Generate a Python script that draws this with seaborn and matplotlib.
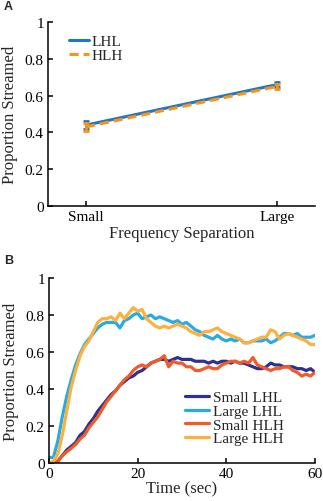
import numpy as np
import pandas as pd
import matplotlib
matplotlib.use('Agg')
import matplotlib.pyplot as plt
import seaborn as sns

# Panel A: proportion streamed by frequency separation
sep_labels = ['Small', 'Large']
lhl_mean = [0.44, 0.66]
lhl_err = [0.02, 0.015]
hlh_mean = [0.43, 0.65]
hlh_err = [0.02, 0.015]

# Panel B: proportion streamed over time (1 s steps)
time_sec = list(range(61))
small_lhl = [0.00, 0.00, 0.01, 0.04, 0.07, 0.09, 0.11, 0.15, 0.17, 0.21,
             0.24, 0.28, 0.31, 0.34, 0.37, 0.39, 0.42, 0.44, 0.46, 0.47,
             0.49, 0.50, 0.52, 0.54, 0.55, 0.56, 0.56, 0.55, 0.56, 0.57,
             0.56, 0.56, 0.56, 0.55, 0.55, 0.55, 0.54, 0.55, 0.54, 0.55,
             0.55, 0.54, 0.55, 0.54, 0.54, 0.53, 0.52, 0.51, 0.51, 0.52,
             0.54, 0.53, 0.53, 0.52, 0.52, 0.52, 0.51, 0.51, 0.50, 0.51, 0.49]
large_lhl = [0.03, 0.03, 0.12, 0.25, 0.36, 0.45, 0.53, 0.59, 0.64, 0.67,
             0.70, 0.73, 0.75, 0.76, 0.76, 0.76, 0.73, 0.77, 0.78, 0.80,
             0.81, 0.78, 0.79, 0.80, 0.78, 0.79, 0.78, 0.77, 0.76, 0.77,
             0.75, 0.76, 0.74, 0.72, 0.71, 0.69, 0.68, 0.67, 0.69, 0.67,
             0.66, 0.67, 0.66, 0.67, 0.65, 0.65, 0.66, 0.66, 0.66, 0.67,
             0.65, 0.66, 0.68, 0.70, 0.70, 0.69, 0.70, 0.68, 0.68, 0.68, 0.69]
small_hlh = [0.00, 0.00, 0.01, 0.04, 0.06, 0.08, 0.10, 0.13, 0.15, 0.19,
             0.22, 0.25, 0.29, 0.33, 0.36, 0.39, 0.42, 0.45, 0.47, 0.50,
             0.52, 0.53, 0.52, 0.54, 0.55, 0.56, 0.58, 0.52, 0.55, 0.54,
             0.54, 0.52, 0.52, 0.50, 0.50, 0.51, 0.52, 0.51, 0.51, 0.53,
             0.54, 0.55, 0.55, 0.54, 0.55, 0.54, 0.57, 0.53, 0.52, 0.51,
             0.50, 0.51, 0.51, 0.52, 0.52, 0.50, 0.49, 0.47, 0.48, 0.47, 0.49]
large_hlh = [0.00, 0.01, 0.05, 0.15, 0.28, 0.41, 0.50, 0.58, 0.63, 0.66,
             0.71, 0.76, 0.78, 0.78, 0.79, 0.77, 0.81, 0.78, 0.81, 0.84,
             0.82, 0.83, 0.78, 0.76, 0.74, 0.73, 0.74, 0.73, 0.74, 0.75,
             0.74, 0.73, 0.71, 0.70, 0.69, 0.71, 0.71, 0.72, 0.73, 0.71,
             0.70, 0.69, 0.68, 0.67, 0.65, 0.65, 0.66, 0.67, 0.68, 0.68,
             0.72, 0.71, 0.67, 0.69, 0.70, 0.69, 0.68, 0.67, 0.66, 0.64, 0.64]

sns.set_theme(style='ticks')
plt.rcParams['font.family'] = ['Liberation Serif', 'DejaVu Serif']
plt.rcParams['font.size'] = 11
plt.rcParams['axes.edgecolor'] = 'black'
plt.rcParams['axes.linewidth'] = 1.1
plt.rcParams['xtick.color'] = 'black'
plt.rcParams['ytick.color'] = 'black'

fig = plt.figure(figsize=(3.23, 5.02), dpi=100)
axA = fig.add_axes([0.1486, 0.5876, 0.8266, 0.3665])
axB = fig.add_axes([0.1517, 0.0757, 0.8235, 0.3685])

# ---- panel A
dfA = pd.DataFrame({
    'pos': [0, 1, 0, 1],
    'value': lhl_mean + hlh_mean,
    'cond': ['LHL', 'LHL', 'HLH', 'HLH'],
})
colA = {'LHL': '#2178c0', 'HLH': '#f7941e'}
sns.lineplot(data=dfA, x='pos', y='value', hue='cond', style='cond',
             palette=colA, dashes={'LHL': '', 'HLH': (3, 1.6)},
             linewidth=2.2, ax=axA)
axA.errorbar([0, 1], lhl_mean, yerr=lhl_err, fmt='none', ecolor=colA['LHL'],
             elinewidth=2, capsize=2, capthick=2)
axA.errorbar([0, 1], hlh_mean, yerr=hlh_err, fmt='none', ecolor=colA['HLH'],
             elinewidth=2, capsize=2, capthick=2)
axA.set_xlim(-0.2, 1.2)
axA.set_ylim(0, 1)
axA.set_xticks([0, 1])
axA.set_xticklabels(sep_labels)
axA.set_yticks([0, 0.2, 0.4, 0.6, 0.8, 1])
axA.set_yticklabels(['0', '0.2', '0.4', '0.6', '0.8', '1'])
axA.set_xlabel('Frequency Separation', labelpad=1)
axA.set_ylabel('Proportion Streamed', labelpad=5)
axA.legend(loc='upper left', bbox_to_anchor=(0.055, 0.965), frameon=False,
           handlelength=1.3, handletextpad=0.2, labelspacing=0.0,
           borderaxespad=0, fontsize=11)

# ---- panel B
dfB = pd.DataFrame({
    'time': time_sec * 4,
    'value': small_lhl + large_lhl + small_hlh + large_hlh,
    'cond': (['Small LHL'] * 61 + ['Large LHL'] * 61 +
             ['Small HLH'] * 61 + ['Large HLH'] * 61),
})
colB = {'Small LHL': '#2e3192', 'Large LHL': '#29abe2',
        'Small HLH': '#f15a29', 'Large HLH': '#fbb040'}
sns.lineplot(data=dfB, x='time', y='value', hue='cond', palette=colB,
             linewidth=2.3, ax=axB)
axB.set_xlim(0, 60)
axB.set_ylim(0, 1)
axB.set_xticks([0, 20, 40, 60])
axB.set_yticks([0, 0.2, 0.4, 0.6, 0.8, 1])
axB.set_yticklabels(['0', '0.2', '0.4', '0.6', '0.8', '1'])
axB.set_xlabel('Time (sec)', labelpad=0)
axB.set_ylabel('Proportion Streamed', labelpad=5)
axB.legend(loc='upper left', bbox_to_anchor=(0.49, 0.425), frameon=False,
           handlelength=1.55, handletextpad=0.25, labelspacing=0.0,
           borderaxespad=0, fontsize=11)

for ax in (axA, axB):
    sns.despine(ax=ax)
    ax.tick_params(direction='in', length=3.5, width=1.1, pad=3, labelsize=11)

fig.text(4 / 323, 1 - 7.5 / 502, 'A', family='Liberation Sans', weight='bold',
         fontsize=9, va='center', ha='left')
fig.text(4 / 323, 1 - 260.5 / 502, 'B', family='Liberation Sans', weight='bold',
         fontsize=9, va='center', ha='left')

fig.savefig('out.png', dpi=100)
